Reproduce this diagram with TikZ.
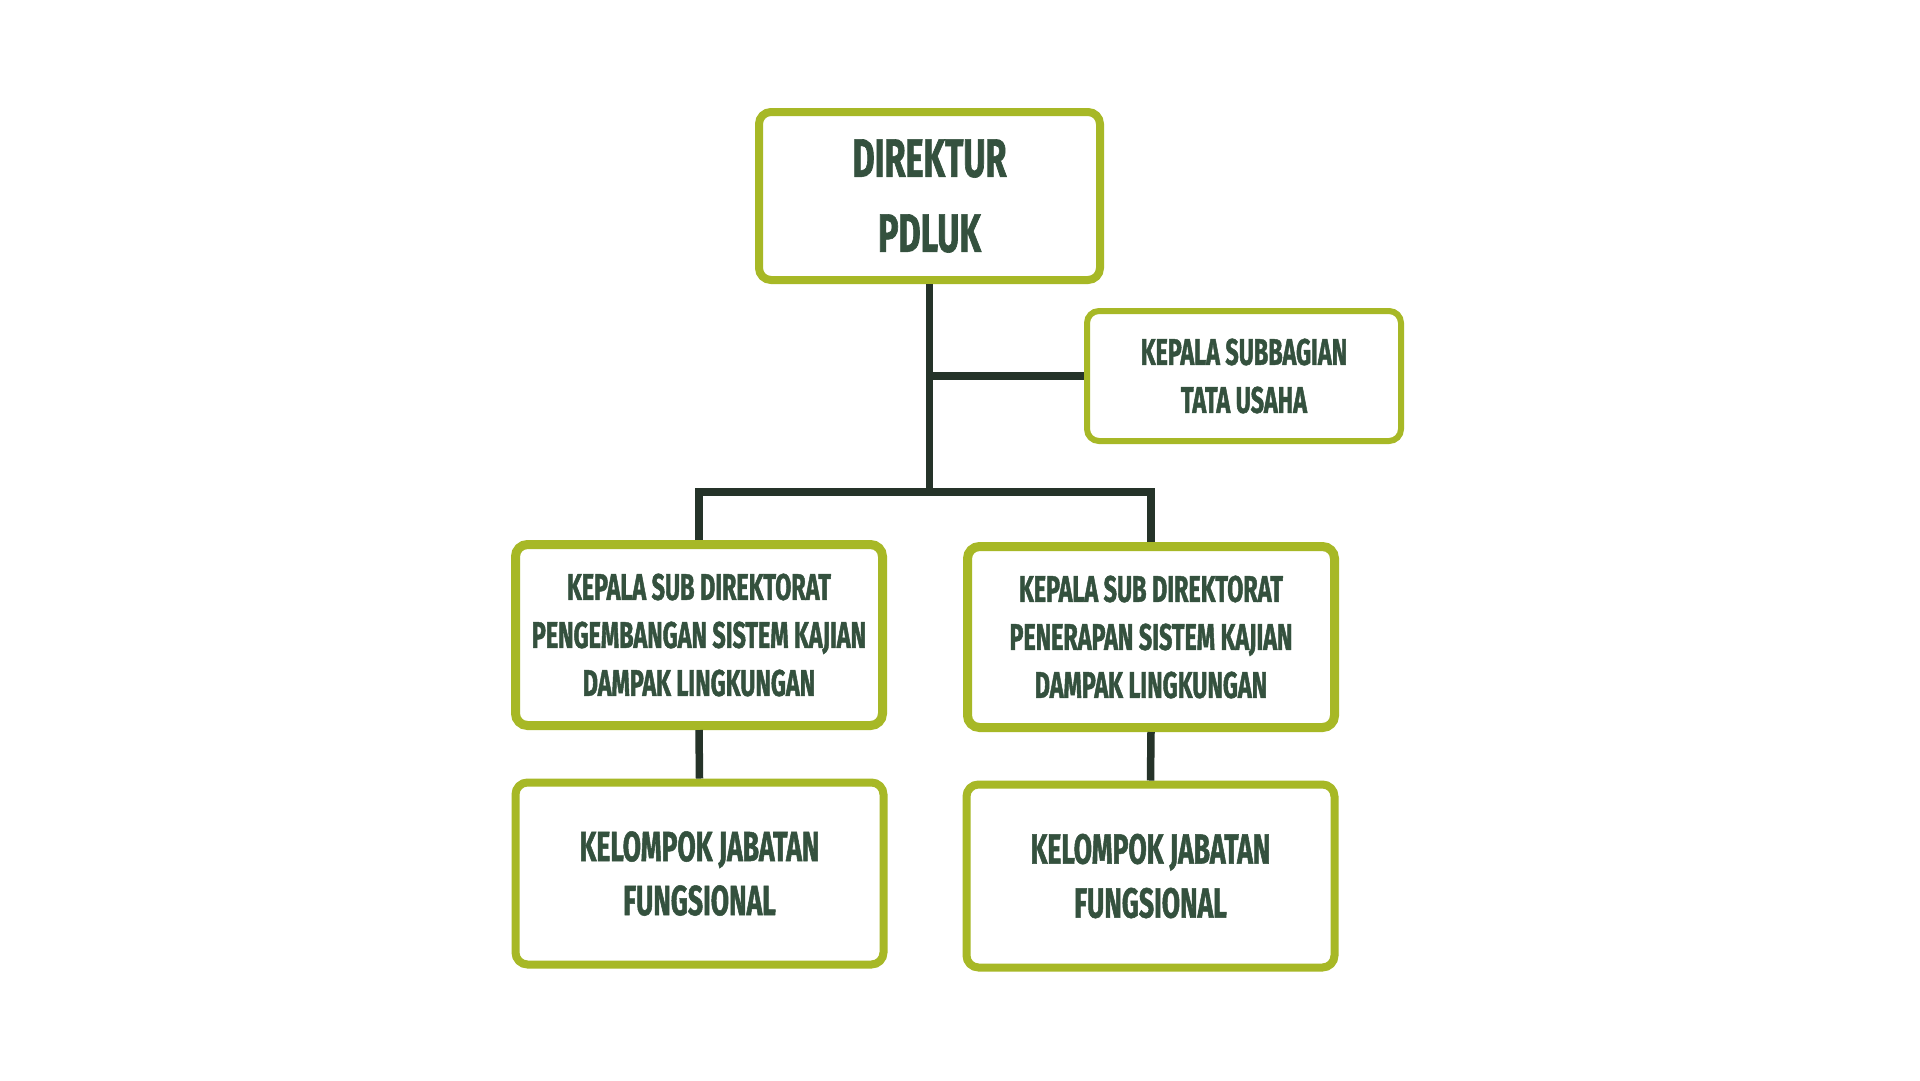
\documentclass[tikz,border=0pt]{standalone}
\usepackage{fontspec}
\newfontfamily\lblfont{Fira Sans}[FakeStretch=0.63,FakeBold=1.2]
\definecolor{boxgreen}{RGB}{167,184,38}
\definecolor{linedark}{RGB}{37,51,41}
\definecolor{txtgreen}{RGB}{52,81,62}
\begin{document}
\begin{tikzpicture}[x=1pt,y=-1pt,
  orgbox/.style={draw=boxgreen,fill=white,rounded corners=12pt,align=center,
    text=txtgreen,inner sep=0pt},
  conn/.style={draw=linedark,line width=7.5pt,line join=miter,line cap=butt},
  bigtxt/.style={font=\lblfont\bfseries\fontsize{54}{75}\selectfont},
  midtxt/.style={font=\lblfont\bfseries\fontsize{42}{54}\selectfont},
  smalltxt/.style={font=\lblfont\bfseries\fontsize{37}{48}\selectfont}]
\useasboundingbox[fill=white] (0,0) rectangle (1920,1080);
\coordinate (bus) at (930,492);
\node[orgbox,line width=8pt,minimum width=341pt,minimum height=168pt,bigtxt] (dir) at (929.5,196) {DIREKTUR\\PDLUK};
\node[orgbox,line width=6pt,minimum width=314pt,minimum height=130pt,smalltxt] (sub) at (1244,376) {KEPALA SUBBAGIAN\\TATA USAHA};
\node[orgbox,line width=9pt,minimum width=367pt,minimum height=181pt,smalltxt] (sdL) at (699,635) {KEPALA SUB DIREKTORAT\\PENGEMBANGAN SISTEM KAJIAN\\DAMPAK LINGKUNGAN};
\node[orgbox,line width=9pt,minimum width=367pt,minimum height=181pt,smalltxt] (sdR) at (1151,637) {KEPALA SUB DIREKTORAT\\PENERAPAN SISTEM KAJIAN\\DAMPAK LINGKUNGAN};
\node[orgbox,line width=8pt,minimum width=368pt,minimum height=182pt,midtxt] (kjL) at (699.5,873.5) {KELOMPOK JABATAN\\FUNGSIONAL};
\node[orgbox,line width=8pt,minimum width=368pt,minimum height=183pt,midtxt] (kjR) at (1150.5,876) {KELOMPOK JABATAN\\FUNGSIONAL};
\draw[conn] (dir.south) -- (dir.south |- bus);
\draw[conn] (dir.south |- sub.west) -- (sub.west);
\draw[conn] (sdL.north) |- (bus) -| (sdR.north);
\draw[conn] (sdL.south) -- (kjL.north);
\draw[conn] (sdR.south) -- (kjR.north);
\end{tikzpicture}
\end{document}
